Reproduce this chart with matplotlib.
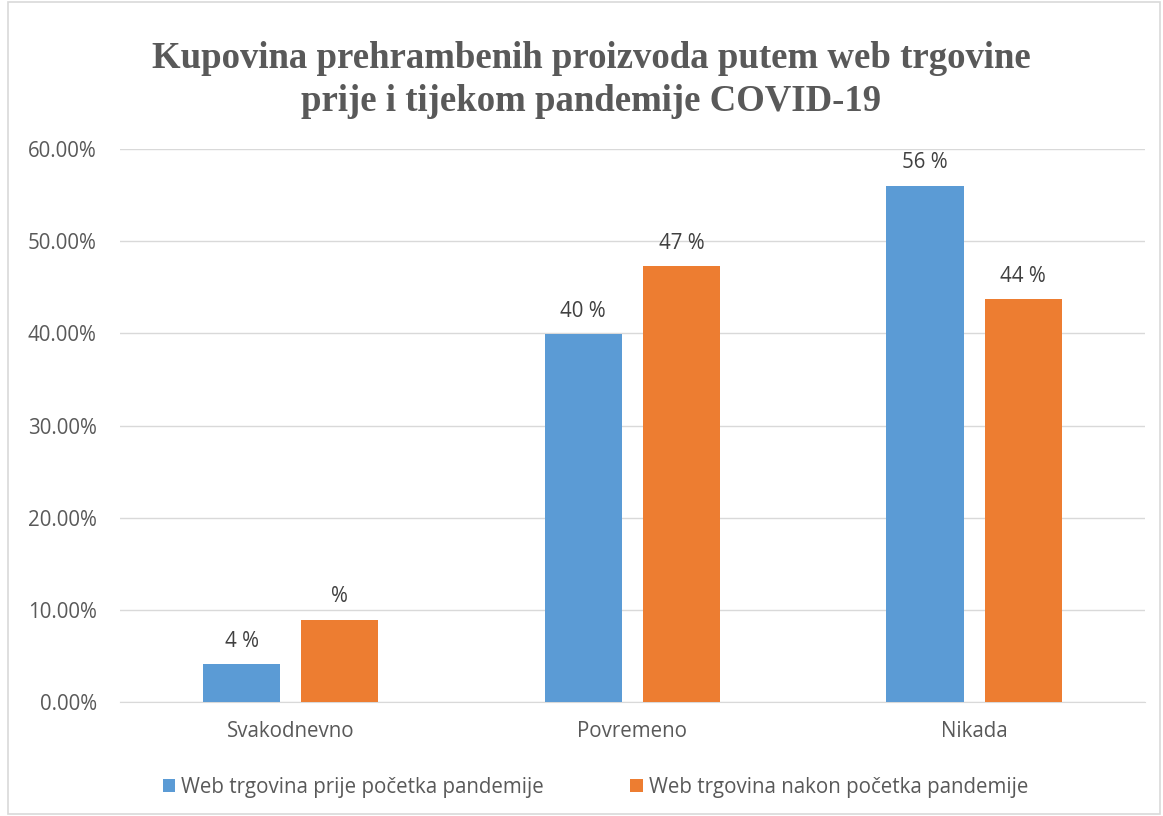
import numpy as np
import matplotlib
matplotlib.use('Agg')
import matplotlib.pyplot as plt
from matplotlib.patches import Rectangle
from matplotlib.ticker import FuncFormatter

# ============================================
# region 1. Data
categories = ['Svakodnevno', 'Povremeno', 'Nikada']
before_vals = [0.041, 0.399, 0.560]   # Web trgovina prije pocetka pandemije
after_vals = [0.089, 0.473, 0.437]    # Web trgovina nakon pocetka pandemije
before_labels = ['4 %', '40 %', '56 %']
after_labels = ['%', '47 %', '44 %']
series_names = ['Web trgovina prije početka pandemije',
                'Web trgovina nakon početka pandemije']
y_ticks = [0.0, 0.1, 0.2, 0.3, 0.4, 0.5, 0.6]
# endregion

# ============================================
# region 2. Plot
text_gray = '#595959'
blue = '#5B9BD5'
orange = '#ED7D31'
plt.rcParams['font.family'] = ['Open Sans', 'DejaVu Sans']
fs = 14.8

fig = plt.figure(figsize=(11.63, 8.16), dpi=100)
ax = fig.add_axes([0.103, 0.1397, 0.8815, 0.6777])

x = np.arange(len(categories))
width = 0.226
offset = 0.1437

b1 = ax.bar(x - offset, before_vals, width, color=blue, label=series_names[0], zorder=3)
b2 = ax.bar(x + offset, after_vals, width, color=orange, label=series_names[1], zorder=3)

for bars, labels in ((b1, before_labels), (b2, after_labels)):
    for bar, lab in zip(bars, labels):
        ax.annotate(lab, (bar.get_x() + bar.get_width() / 2, bar.get_height()),
                    xytext=(0, 9), textcoords='offset points', ha='center', va='bottom',
                    fontsize=fs, color='#404040')

ax.set_xlim(-0.5, 2.5)
ax.set_ylim(0, 0.6)
ax.set_yticks(y_ticks)
ax.yaxis.set_major_formatter(FuncFormatter(lambda v, p: f'{v * 100:.2f}%'))
ax.set_xticks(x)
ax.set_xticklabels(categories)
ax.tick_params(axis='both', length=0, labelsize=fs, labelcolor=text_gray)
ax.tick_params(axis='y', pad=16.5)
ax.tick_params(axis='x', pad=14)
ax.grid(axis='y', color='#d9d9d9', linewidth=1, zorder=0)
for s in ['top', 'right', 'left']:
    ax.spines[s].set_visible(False)
ax.spines['bottom'].set_color('#d9d9d9')

fig.text(0.5086, 0.902,
         'Kupovina prehrambenih proizvoda putem web trgovine\nprije i tijekom pandemije COVID-19',
         ha='center', va='center', fontsize=26.5, fontweight='bold', color=text_gray,
         family='Liberation Serif', linespacing=1.27)

fig.legend(loc='center', bbox_to_anchor=(0.512, 0.035), ncol=2, frameon=False,
           fontsize=fs, labelcolor=text_gray, handlelength=0.6, handleheight=0.6,
           handletextpad=0.3, columnspacing=4.2)

# border round the chart
fig.add_artist(Rectangle((0.007, 0.003), 0.99, 0.994, transform=fig.transFigure,
                         fill=False, edgecolor='#d9d9d9', linewidth=1.2))

fig.savefig('out.png', dpi=100)
# endregion
